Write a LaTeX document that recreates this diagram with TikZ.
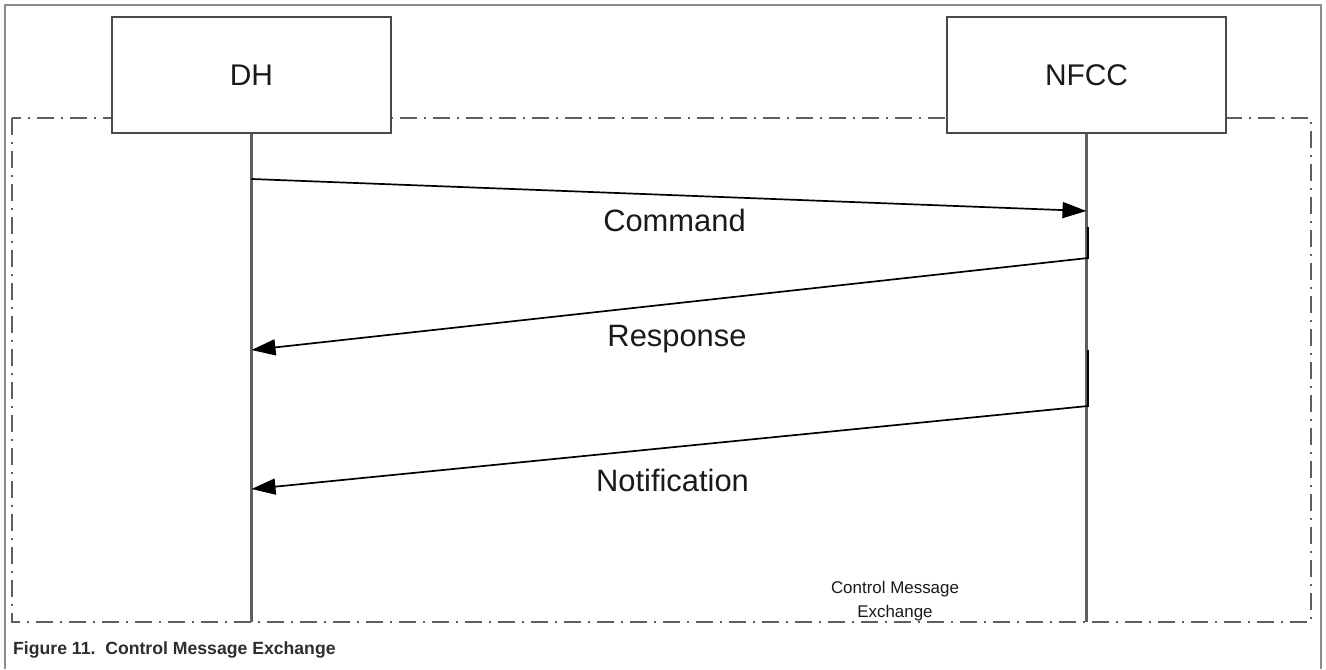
\documentclass[tikz,border=0pt]{standalone}
\usepackage{fontspec}
\setmainfont{Liberation Sans}
\usetikzlibrary{arrows.meta}
\definecolor{framegray}{HTML}{8C8C8C}
\definecolor{boxgray}{HTML}{4A4A4A}
\definecolor{lifegray}{HTML}{5E5E5E}
\definecolor{txtdark}{HTML}{1A1A1A}
\definecolor{capgray}{HTML}{2E2E2E}
\begin{document}
\begin{tikzpicture}[x=1bp,y=-1bp,
  actor/.style={draw=boxgray, line width=2.6bp, fill=white, minimum width=279bp, minimum height=116bp,
    inner sep=0pt, text=txtdark, font=\fontsize{30}{34}\selectfont},
  life/.style={draw=lifegray, line width=2.2bp},
  msg/.style={draw=black, line width=1.7bp, -{Triangle[length=24bp,width=16bp]}},
  lbl/.style={text=txtdark, inner sep=0pt, font=\fontsize{31}{36}\selectfont},
  small/.style={text=txtdark, inner sep=0pt, align=center, font=\fontsize{17}{24}\selectfont},
  dashdot/.style={draw=lifegray, line width=1.8bp, dash pattern=on 17bp off 7bp on 2bp off 7bp},
  caption/.style={text=capgray, inner sep=0pt, font=\bfseries\fontsize{17.7}{20}\selectfont}
]
\useasboundingbox[fill=white] (0,0) rectangle (1326,669);
% outer frame (open at the bottom)
\draw[framegray, line width=1.4bp] (5,669) -- (5,5) -- (1321,5) -- (1321,669);
% dash-dot frame
\draw[dashdot] (12,118) rectangle (1311,622);
% actors
\node[actor] (dh) at (251.5,75) {DH};
\node[actor] (nfcc) at (1086.5,75) {NFCC};
% lifeline ends
\coordinate (dhend) at (251.5,622);
\coordinate (nfccend) at (1086.5,622);
\draw[life] (dh) -- (dhend);
\draw[life] (nfcc) -- (nfccend);
% message points
\coordinate (c0) at (251.5,179);
\coordinate (c1) at (1086.5,211);
\coordinate (r0) at (1088,227);
\coordinate (r1) at (1088,258);
\coordinate (r2) at (251.5,350);
\coordinate (n0) at (1088,350);
\coordinate (n1) at (1088,406);
\coordinate (n2) at (251.5,489);
\draw[msg] (c0) -- (c1);
\draw[msg] (r0) -- (r1) -- (r2);
\draw[msg] (n0) -- (n1) -- (n2);
% labels
\node[lbl, anchor=base] (lcmd) at (674.5,231) {Command};
\node[lbl, anchor=base] (lrsp) at (677,346) {Response};
\node[lbl, anchor=base] (lntf) at (672.5,491) {Notification};
\node[small, anchor=base] (lcme) at (895,617) {Control Message\\Exchange};
% caption
\node[caption, anchor=base west] (cap) at (13,654) {Figure 11.\ \ Control Message Exchange};
\end{tikzpicture}
\end{document}
